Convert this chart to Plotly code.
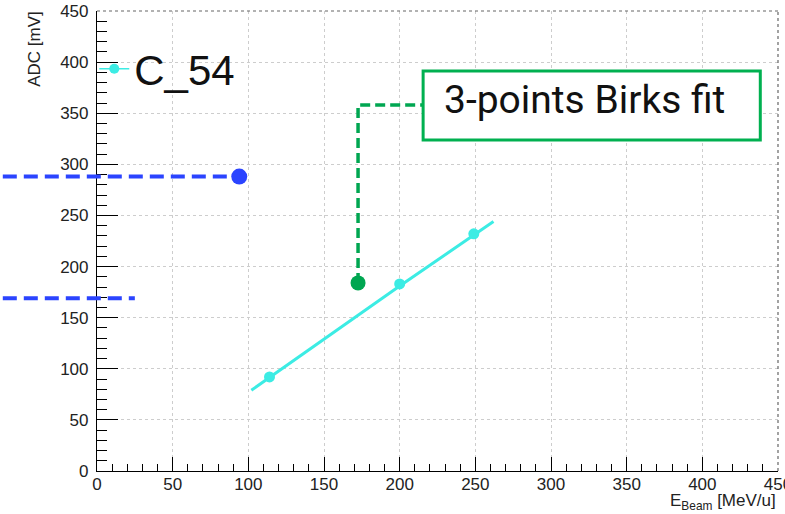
import plotly.graph_objects as go

# ---- data ----
energy = [114, 200, 249]          # E_Beam [MeV/u]
adc = [92, 183, 232]              # ADC [mV]
fit_x = [102, 150, 200, 262]
fit_y = [79, 129, 181, 244]
series_name = "C_54"

# overlay callouts (data units)
blue_dot = (94, 288)
blue_line2_y = 169
blue_line2_end = 25
green_dot = (172.5, 184)
green_elbow_y = 358
box_x = (215.5, 438.3)
box_y = (323.8, 391.3)
callout_text = "3-points Birks fit"

XR = (0, 450)
YR = (0, 450)
CYAN = "#3CECE4"
BLUE = "#2B44FF"
GREEN = "#00A651"


def px(x):
    return (x - XR[0]) / (XR[1] - XR[0])


def py(y):
    return (y - YR[0]) / (YR[1] - YR[0])


fig = go.Figure()
fig.add_trace(go.Scatter(x=fit_x, y=fit_y, mode="lines",
                         line=dict(color=CYAN, width=3), showlegend=False, hoverinfo="skip"))
fig.add_trace(go.Scatter(x=energy, y=adc, mode="markers",
                         marker=dict(color=CYAN, size=11), showlegend=False))
fig.add_trace(go.Scatter(x=[None], y=[None], mode="lines+markers", name=series_name,
                         line=dict(color=CYAN, width=1.5), marker=dict(color=CYAN, size=10)))
fig.add_trace(go.Scatter(x=[blue_dot[0]], y=[blue_dot[1]], mode="markers", cliponaxis=False,
                         marker=dict(color=BLUE, size=16), showlegend=False))
fig.add_trace(go.Scatter(x=[green_dot[0]], y=[green_dot[1]], mode="markers", cliponaxis=False,
                         marker=dict(color=GREEN, size=15), showlegend=False))

shapes = []
# ROOT-style dotted top/right frame
shapes.append(dict(type="line", xref="paper", yref="paper", x0=0, x1=1, y0=1, y1=1,
                   line=dict(color="#666", width=1.2, dash="dot")))
shapes.append(dict(type="line", xref="paper", yref="paper", x0=1, x1=1, y0=0, y1=1,
                   line=dict(color="#666", width=1.2, dash="dot")))
# blue dashed guides
shapes.append(dict(type="line", xref="paper", yref="paper", x0=-0.2, x1=px(blue_dot[0]),
                   y0=py(blue_dot[1]), y1=py(blue_dot[1]),
                   line=dict(color=BLUE, width=4, dash="14px,7px")))
shapes.append(dict(type="line", xref="paper", yref="paper", x0=-0.2, x1=px(blue_line2_end),
                   y0=py(blue_line2_y), y1=py(blue_line2_y),
                   line=dict(color=BLUE, width=4, dash="14px,7px")))
# green callout
shapes.append(dict(type="path", xref="paper", yref="paper",
                   path=f"M {px(green_dot[0])} {py(green_dot[1])} L {px(green_dot[0])} {py(green_elbow_y)} L {px(box_x[0])} {py(green_elbow_y)}",
                   line=dict(color=GREEN, width=3.5, dash="10px,5px")))
shapes.append(dict(type="rect", xref="paper", yref="paper", x0=px(box_x[0]), x1=px(box_x[1]),
                   y0=py(box_y[0]), y1=py(box_y[1]), fillcolor="white",
                   line=dict(color="#00B050", width=3)))

annotations = [
    dict(text=callout_text, xref="paper", yref="paper", x=px(box_x[0]) + 0.027, y=py(box_y[1]) - 0.062,
         xanchor="left", yanchor="middle", showarrow=False,
         font=dict(family="Roboto", size=39, color="#111")),
    dict(text="ADC [mV]", xref="paper", yref="paper", x=-0.091, y=0.918, textangle=-90,
         xanchor="center", yanchor="middle", showarrow=False,
         font=dict(family="Liberation Sans", size=17, color="#222")),
    dict(text="E<sub>Beam</sub> [MeV/u]", xref="paper", yref="paper", x=1.0, y=-0.068,
         xanchor="right", yanchor="middle", showarrow=False,
         font=dict(family="Liberation Sans", size=17, color="#222")),
]

axis_common = dict(showline=True, linecolor="black", linewidth=1.2, ticks="inside",
                   tickcolor="black", showgrid=True, gridcolor="#cdcdcd", griddash="dot",
                   gridwidth=1, zeroline=False, dtick=50, tick0=0, automargin=False,
                   ticklabeloverflow="allow",
                   tickfont=dict(family="Liberation Sans", size=17, color="#222"))

fig.update_layout(
    width=785, height=514,
    margin=dict(l=97, r=7, t=11, b=43),
    paper_bgcolor="white", plot_bgcolor="white",
    xaxis=dict(range=list(XR), ticklen=14, tickwidth=1.2,
               minor=dict(ticks="inside", ticklen=7, dtick=10, tickcolor="black", showgrid=False),
               ticklabelstandoff=-3, **axis_common),
    yaxis=dict(range=list(YR), ticklen=21, tickwidth=1.2,
               minor=dict(ticks="inside", ticklen=10, dtick=10, tickcolor="black", showgrid=False),
               ticklabelstandoff=4, **axis_common),
    legend=dict(x=-0.004, y=0.874, xanchor="left", yanchor="middle", bgcolor="rgba(0,0,0,0)",
                font=dict(family="Liberation Sans", size=42, color="#111"),
                itemwidth=30, tracegroupgap=0),
    shapes=shapes,
    annotations=annotations,
)

fig.write_html("out.html")
